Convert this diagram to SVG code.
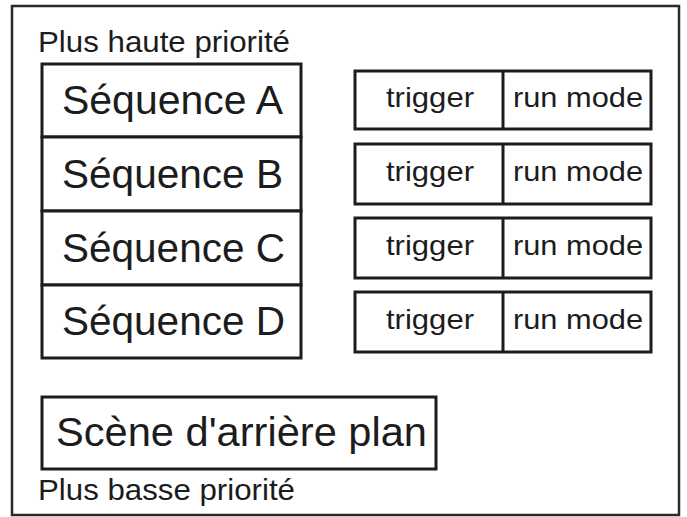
<svg xmlns="http://www.w3.org/2000/svg" width="687" height="517" viewBox="0 0 687 517">
<style>
.box{fill:#fff;stroke:#1c1c1c;stroke-width:3}
.frame{fill:#fff;stroke:#2a2a2a;stroke-width:2.5}
text{font-family:"Liberation Sans",Arial,sans-serif;fill:#1c1c1c}
.lbl{font-size:30px}
.seq{font-size:40px}
.trg{font-size:28px}
</style>
<rect width="687" height="517" fill="#fff"/>
<g id="frame">
<rect class="frame" x="12" y="6" width="667" height="509"/>
<text class="lbl" x="38" y="52" textLength="252" lengthAdjust="spacingAndGlyphs">Plus haute priorité</text>
<text class="lbl" x="38" y="500" textLength="257" lengthAdjust="spacingAndGlyphs">Plus basse priorité</text>
</g>
<g id="seqA">
<rect class="box" x="42" y="64" width="259" height="73"/>
<text class="seq" x="62" y="114" textLength="221" lengthAdjust="spacingAndGlyphs">Séquence A</text>
</g>
<g id="seqB">
<rect class="box" x="42" y="137" width="259" height="74"/>
<text class="seq" x="62" y="188" textLength="221" lengthAdjust="spacingAndGlyphs">Séquence B</text>
</g>
<g id="seqC">
<rect class="box" x="42" y="211" width="259" height="74"/>
<text class="seq" x="62" y="262" textLength="223" lengthAdjust="spacingAndGlyphs">Séquence C</text>
</g>
<g id="seqD">
<rect class="box" x="42" y="285" width="259" height="73"/>
<text class="seq" x="62" y="335" textLength="223" lengthAdjust="spacingAndGlyphs">Séquence D</text>
</g>
<g id="ctrlA">
<rect class="box" x="355" y="71" width="296" height="58"/>
<line class="box" x1="503" y1="71" x2="503" y2="129"/>
<text class="trg" x="386" y="107" textLength="88" lengthAdjust="spacingAndGlyphs">trigger</text>
<text class="trg" x="513" y="107" textLength="130" lengthAdjust="spacingAndGlyphs">run mode</text>
</g>
<g id="ctrlB">
<rect class="box" x="355" y="144" width="296" height="60"/>
<line class="box" x1="503" y1="144" x2="503" y2="204"/>
<text class="trg" x="386" y="181" textLength="88" lengthAdjust="spacingAndGlyphs">trigger</text>
<text class="trg" x="513" y="181" textLength="130" lengthAdjust="spacingAndGlyphs">run mode</text>
</g>
<g id="ctrlC">
<rect class="box" x="355" y="218" width="296" height="60"/>
<line class="box" x1="503" y1="218" x2="503" y2="278"/>
<text class="trg" x="386" y="255" textLength="88" lengthAdjust="spacingAndGlyphs">trigger</text>
<text class="trg" x="513" y="255" textLength="130" lengthAdjust="spacingAndGlyphs">run mode</text>
</g>
<g id="ctrlD">
<rect class="box" x="355" y="292" width="296" height="60"/>
<line class="box" x1="503" y1="292" x2="503" y2="352"/>
<text class="trg" x="386" y="329" textLength="88" lengthAdjust="spacingAndGlyphs">trigger</text>
<text class="trg" x="513" y="329" textLength="130" lengthAdjust="spacingAndGlyphs">run mode</text>
</g>
<g id="scene">
<rect class="box" x="42" y="397" width="394" height="72"/>
<text class="seq" x="56" y="446" textLength="371" lengthAdjust="spacingAndGlyphs">Scène d'arrière plan</text>
</g>
<g id="connectors"></g>
</svg>
